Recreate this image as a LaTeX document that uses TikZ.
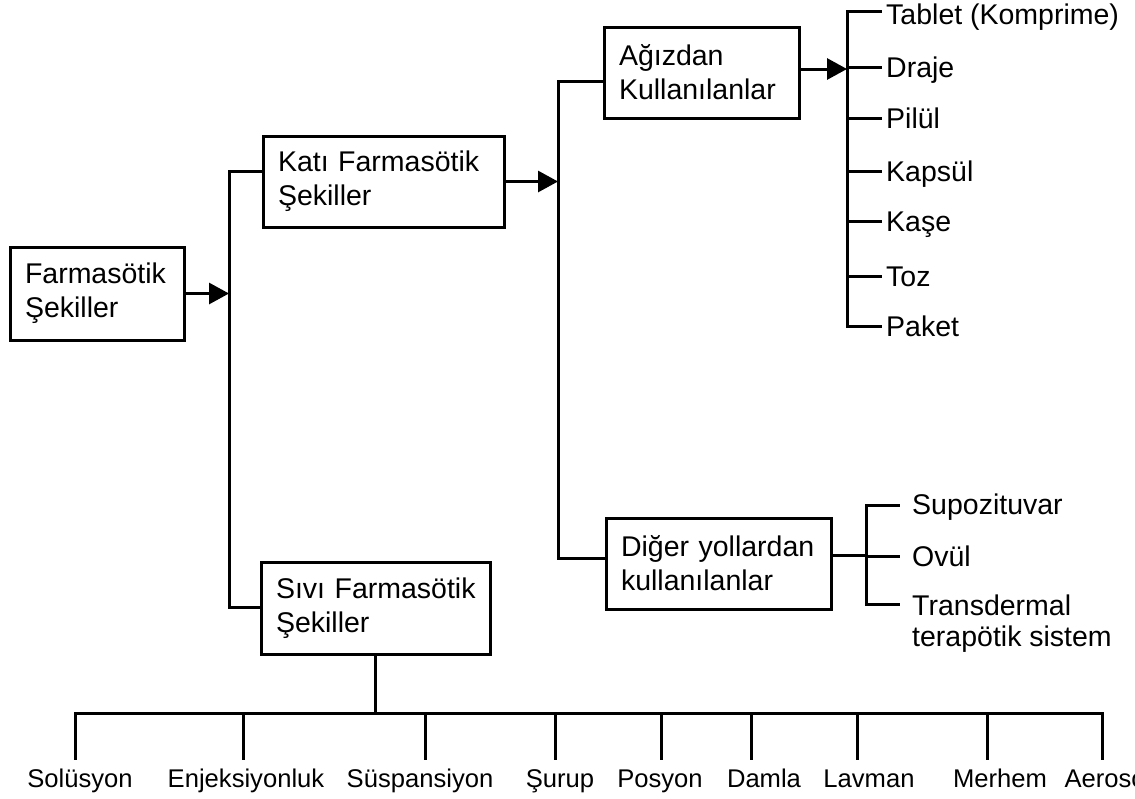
\documentclass[tikz,border=0pt]{standalone}
\usepackage{fontspec}
\setmainfont{Liberation Sans}
\usetikzlibrary{arrows.meta}
\begin{document}
\begin{tikzpicture}[x=1pt,y=-1pt,
  conn/.style={line width=3pt, line cap=rect},
  arr/.style={line width=3pt, -{Triangle[length=20pt,width=21pt]}},
  box/.style={draw, line width=3pt, inner xsep=15pt, inner ysep=0pt, align=left,
    font=\fontsize{28.5}{34}\selectfont},
  item/.style={anchor=west, inner xsep=6pt, inner ysep=0pt, text height=26.4pt, text depth=6pt,
    font=\fontsize{28.5}{32}\selectfont},
  bitem/.style={anchor=north, inner xsep=0pt, inner ysep=0pt, text height=29.2pt, text depth=6pt,
    font=\fontsize{25.6}{30}\selectfont}
]
\useasboundingbox (0,0) rectangle (1135,798);
\clip (0,0) rectangle (1135,798);

% boxes
\node[box, minimum width=174pt, minimum height=93pt, text width=144pt] (farm) at (97,293.5) {Farmasötik\\Şekiller};
\node[box, minimum width=241pt, minimum height=91pt, text width=211pt] (kati) at (383.5,181.5) {\mbox{Katı Farmasötik}\\Şekiller};
\node[box, minimum width=229pt, minimum height=92pt, text width=199pt] (sivi) at (375.5,608) {\mbox{Sıvı Farmasötik}\\Şekiller};
\node[box, minimum width=195pt, minimum height=91pt, text width=165pt] (agiz) at (701.5,72.5) {Ağızdan\\Kullanılanlar};
\node[box, minimum width=225pt, minimum height=91pt, text width=195pt] (diger) at (718.5,563.5) {\mbox{Diğer yollardan}\\kullanılanlar};

% trunk 1
\coordinate (t1a) at (229,171);
\coordinate (t1b) at (229,607);
\draw[conn] (t1a) -- (t1b);
\draw[conn] (t1a) -- (kati.west |- t1a);
\draw[conn] (t1b) -- (sivi.west |- t1b);
\draw[arr] (farm.east) -- (farm.east -| t1a);

% trunk 2
\coordinate (t2a) at (558,81);
\coordinate (t2b) at (558,558);
\draw[conn] (t2a) -- (t2b);
\draw[conn] (t2a) -- (agiz.west |- t2a);
\draw[conn] (t2b) -- (diger.west |- t2b);
\draw[arr] (kati.east) -- (kati.east -| t2a);

% trunk 3 (oral forms)
\coordinate (t3a) at (847,11);
\coordinate (t3b) at (847,325);
\draw[conn] (t3a) -- (t3b);
\coordinate (aout) at ([yshift=3.5pt]agiz.east);
\draw[arr] (aout) -- (aout -| t3a);
\node[item] (tab) at (880,14) {Tablet (Komprime)};
\draw[conn] (t3a) -- (t3a -| tab.west);
\foreach \n/\y/\txt in {dra/67/Draje, pil/118/Pilül, kap/171/Kapsül, kas/221/Kaşe, toz/276/Toz, pak/326/Paket}{
  \node[item] (\n) at (880,\y) {\txt};
  \draw[conn] (\n.west -| t3a) -- (\n.west);
}

% other routes bracket
\coordinate (b1) at (866,505);
\coordinate (b2) at (866,604);
\coordinate (dout) at ([yshift=8.5pt]diger.east);
\draw[conn] (b1) -- (b2);
\draw[conn] (dout) -- (dout -| b1);
\node[item, inner xsep=14pt] (sup) at (898,504) {Supozituvar};
\node[item, inner xsep=14pt] (ovu) at (898,556) {Ovül};
\node[anchor=north west, inner xsep=14pt, inner ysep=0pt, align=left,
  font=\fontsize{28.5}{31}\selectfont] (tra) at (898,595) {Transdermal\\terapötik sistem};
\draw[conn] (b1) -- (sup.west |- b1);
\draw[conn] (ovu.west -| b1) -- (ovu.west);
\draw[conn] (b2) -- (b2 -| tra.west);

% liquid forms
\coordinate (bj) at (375.5,713);
\coordinate (bl) at (75,713);
\coordinate (br) at (1102,713);
\draw[conn] (sivi.south) -- (bj);
\draw[conn] (bl) -- (br);
\foreach \n/\dx/\tx/\txt in {sol/75/80/Solüsyon, enj/243/246/Enjeksiyonluk, sus/425/420/Süspansiyon,
  sur/555/560/Şurup, pos/661/660/Posyon, dam/751/764/Damla, lav/857/869/Lavman,
  mer/987/1000/Merhem, aer/1102/1108/Aerosol}{
  \node[bitem] (\n) at (\tx,758) {\txt};
  \draw[conn] (bj -| \dx,0) -- (\n.north -| \dx,0);
}
\end{tikzpicture}
\end{document}
